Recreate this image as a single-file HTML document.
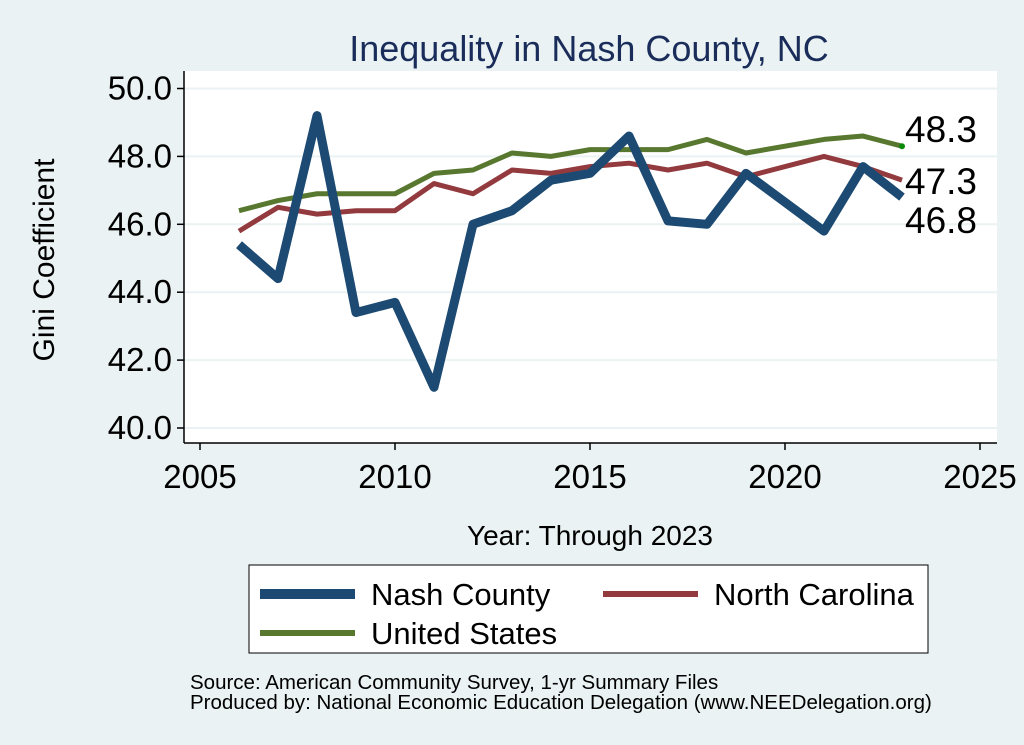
<!DOCTYPE html>
<html><head><meta charset="utf-8"><style>
body{margin:0;background:#eaf2f3;font-family:"Liberation Sans",sans-serif;}
svg{display:block}
</style></head><body>
<svg width="1024" height="745" id="chart">
<rect x="0" y="0" width="1024" height="745" fill="#eaf2f3"/>
<text x="589" y="61" font-size="36" fill="#1a2d5a" text-anchor="middle">Inequality in Nash County, NC</text>
<rect x="184" y="71" width="813" height="372" fill="#fff"/>
<g id="grid"></g><g id="axes"></g><g id="series"></g>
<text x="54" y="260" font-size="30" fill="#000" text-anchor="middle" transform="rotate(-90 54 260)">Gini Coefficient</text>
<text x="590" y="545" font-size="28" fill="#000" text-anchor="middle">Year: Through 2023</text>
<g>
<rect x="249" y="565" width="679" height="88" fill="#fff" stroke="#000" stroke-width="1"/>
<line x1="260" y1="594" x2="355" y2="594" stroke="#1c4a72" stroke-width="10"/>
<text x="371" y="605" font-size="31">Nash County</text>
<line x1="603" y1="594" x2="698" y2="594" stroke="#923a3e" stroke-width="6"/>
<text x="714" y="605" font-size="31">North Carolina</text>
<line x1="260" y1="633" x2="355" y2="633" stroke="#58782f" stroke-width="6"/>
<text x="371" y="644" font-size="31">United States</text>
</g>
<text x="190" y="689" font-size="20.5">Source: American Community Survey, 1-yr Summary Files</text>
<text x="190" y="709" font-size="20.5">Produced by: National Economic Education Delegation (www.NEEDelegation.org)</text>
</svg>
<script>
const years=[2006,2007,2008,2009,2010,2011,2012,2013,2014,2015,2016,2017,2018,2019,2021,2022,2023];
const nash=[45.4,44.4,49.2,43.4,43.7,41.2,46.0,46.4,47.3,47.5,48.6,46.1,46.0,47.5,45.8,47.7,46.8];
const nc=[45.8,46.5,46.3,46.4,46.4,47.2,46.9,47.6,47.5,47.7,47.8,47.6,47.8,47.4,48.0,47.7,47.3];
const us=[46.4,46.7,46.9,46.9,46.9,47.5,47.6,48.1,48.0,48.2,48.2,48.2,48.5,48.1,48.5,48.6,48.3];
const yTicks=[40,42,44,46,48,50];
const xTicks=[2005,2010,2015,2020,2025];
const NS="http://www.w3.org/2000/svg";
const X=v=>200+(v-2005)*39;
const Y=v=>428-(v-40)*33.95;
function mk(tag,attrs,parent){const e=document.createElementNS(NS,tag);for(const k in attrs)e.setAttribute(k,attrs[k]);parent.appendChild(e);return e;}
const grid=document.getElementById('grid'),axes=document.getElementById('axes'),ser=document.getElementById('series');
mk('line',{x1:184,y1:71,x2:184,y2:443,stroke:'#000','stroke-width':1.5},axes);
mk('line',{x1:184,y1:443,x2:997,y2:443,stroke:'#000','stroke-width':1.5},axes);
yTicks.forEach(t=>{
 const g=mk('line',{x1:184,y1:Y(t),x2:997,y2:Y(t),stroke:'#eaf2f3','stroke-width':2},grid);
 
 
 mk('line',{x1:177,y1:Y(t),x2:184,y2:Y(t),stroke:'#000','stroke-width':1.5},axes);
 const tx=mk('text',{x:172,y:Y(t)+11,'font-size':33,'text-anchor':'end'},axes);tx.textContent=t.toFixed(1);
 
 
});
xTicks.forEach(t=>{
 mk('line',{x1:X(t),y1:443,x2:X(t),y2:450,stroke:'#000','stroke-width':1.5},axes);
 const tx=mk('text',{x:X(t),y:488,'font-size':33,'text-anchor':'middle'},axes);tx.textContent=t;
 
 
});
function line(vals,color,w,name){
 const p=mk('polyline',{points:vals.map((v,i)=>X(years[i])+','+Y(v)).join(' '),fill:'none',stroke:color,'stroke-width':w,'stroke-linejoin':'round'},ser);
 
 
}
line(us,'#58782f',5,'line-united-states');
line(nc,'#923a3e',5,'line-north-carolina');
line(nash,'#1c4a72',9,'line-nash-county');
const last=years.length-1;
const d=mk('circle',{cx:X(years[last]),cy:Y(us[last]),r:3,fill:'#0a8a0a'},ser);


[[us[last],-4,'label-us-last'],[nc[last],14,'label-nc-last'],[nash[last],36,'label-nash-last']].forEach(([v,dy,n])=>{
 const t=mk('text',{x:X(years[last])+3,y:Y(v)+dy,'font-size':37},ser);t.textContent=v.toFixed(1);
 
 
});
</script>
</body></html>
